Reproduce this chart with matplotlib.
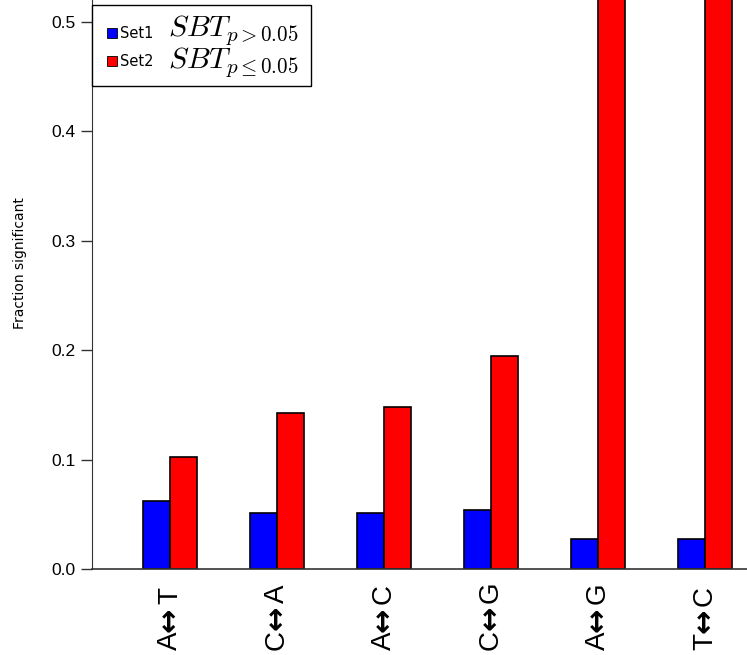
import matplotlib
matplotlib.use("Agg")
import matplotlib.pyplot as plt
from matplotlib.patches import Rectangle
import numpy as np

plt.rcParams['mathtext.fontset'] = 'cm'

# fraccion significativa por tipo de sustitucion
categorias = ["A\u2194T", "C\u2194A", "A\u2194C", "C\u2194G", "A\u2194G", "T\u2194C"]
set1 = [0.062, 0.051, 0.051, 0.054, 0.027, 0.027]
set2 = [0.102, 0.143, 0.148, 0.195, 0.60, 0.60]
ticks_y = [0.0, 0.1, 0.2, 0.3, 0.4, 0.5]

fig = plt.figure(figsize=(7.47, 6.55), dpi=100)
ax = fig.add_axes([92 / 747, (655 - 569) / 655, (747 - 92) / 747, 569 / 655])

centros = np.arange(len(categorias)) * 4.0
ax.bar(centros - 0.5, set1, width=1.0, color="#0000ff", edgecolor="black", linewidth=1.2)
ax.bar(centros + 0.5, set2, width=1.0, color="#ff0000", edgecolor="black", linewidth=1.2)

ax.set_xlim(-2.92, centros[-1] + 1.57)
ax.set_ylim(0, 0.520)

ax.spines['top'].set_visible(False)
ax.spines['right'].set_visible(False)
ax.spines['left'].set_color("#333333")
ax.spines['bottom'].set_color("#333333")
ax.spines['bottom'].set_linewidth(1.2)

ax.set_yticks(ticks_y)
ax.set_yticklabels(["%.1f" % t for t in ticks_y], fontsize=12.5,
                   family=["Liberation Sans", "DejaVu Sans"])
ax.tick_params(axis='y', length=8, width=1, pad=4, color="#333333")

ax.set_xticks(centros)
ax.set_xticklabels([])
ax.tick_params(axis='x', length=0)

# etiquetas verticales: letra, flecha y letra apiladas
trans = ax.get_xaxis_transform()
for x, cat in zip(centros, categorias):
    izq, der = cat.split("\u2194")
    t1 = ax.text(x, (569 - 650) / 569, izq, transform=trans, rotation=90,
                 ha="center", va="bottom", fontsize=20, family="Liberation Sans")
    t2 = ax.annotate("\u2194", xy=(0.5, 1.0), xycoords=t1, rotation=90,
                     ha="center", va="bottom", fontsize=21, family="DejaVu Sans",
                     fontweight="bold")
    ax.annotate(der, xy=(0.5, 1.0), xycoords=t2, xytext=(0, 2),
                textcoords="offset points", rotation=90,
                ha="center", va="bottom", fontsize=20, family="Liberation Sans")

ax.text(-0.110, 0.538, "Fraction significant", transform=ax.transAxes,
        rotation=90, ha="center", va="center", fontsize=10, family="DejaVu Sans")

# leyenda dibujada a mano
px_x = lambda p: (p - 92) / 655
px_y = lambda p: (569 - p) / 569
caja = Rectangle((px_x(92), px_y(86)), 219 / 655, 81 / 569, transform=ax.transAxes,
                 facecolor="white", edgecolor="black", linewidth=1, zorder=5,
                 clip_on=False)
ax.add_patch(caja)
filas = [(33, 36, "#0000ff", "Set1", r"$SBT_{p>0.05}$"),
         (61, 68, "#ff0000", "Set2", r"$SBT_{p\leq 0.05}$")]
for y_cuadro, y_base, color, nombre, expr in filas:
    ax.add_patch(Rectangle((px_x(107), px_y(y_cuadro + 5)), 10 / 655, 10 / 569,
                           transform=ax.transAxes, facecolor=color,
                           edgecolor="black", linewidth=0.6, zorder=6, clip_on=False))
    ax.text(px_x(120), px_y(y_cuadro), nombre, transform=ax.transAxes, fontsize=10.5,
            family="DejaVu Sans", va="center", ha="left", zorder=7)
    ax.text(px_x(168), px_y(y_base), expr, transform=ax.transAxes, fontsize=21.5,
            va="baseline", ha="left", zorder=7)

fig.savefig("out.png", dpi=100)
